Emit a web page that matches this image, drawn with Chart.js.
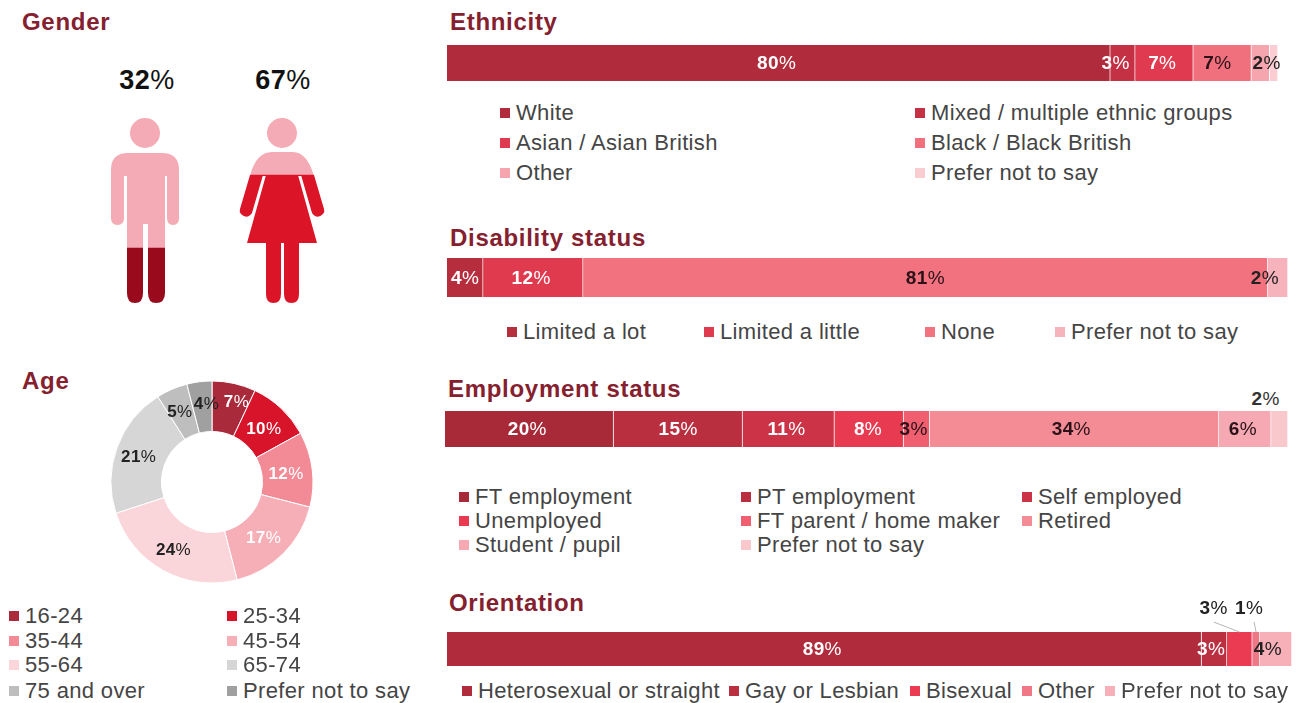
<!DOCTYPE html>
<html>
<head>
<meta charset="utf-8">
<title>Demographics</title>
<script src="https://cdn.jsdelivr.net/npm/chart.js@4"></script>
<style>
    html, body { margin: 0; background: #fff; overflow: hidden; }
    body { position: relative; width: 1298px; height: 703px; font-family: "Liberation Sans", Arial, sans-serif; }
    canvas { position: absolute; }
    .title { position: absolute; color: #85202f; font-size: 24px; font-weight: bold; letter-spacing: .7px; line-height: 28px; white-space: nowrap; transform: translateY(-50%); }
    .item { position: absolute; color: #454545; font-size: 22px; letter-spacing: .35px; line-height: 26px; white-space: nowrap; transform: translateY(-50%); }
    .swatch { position: absolute; width: 10px; height: 10px; transform: translateY(-50%); }
    .label { position: absolute; font-size: 18px; letter-spacing: .4px; white-space: nowrap; transform: translate(-50%, -50%); }
</style>
</head>
<body>
<script>
// ===== Data =====
const genderCats = ["Male", "Female"];
const genderValues = [32, 67];

const ageCats = ["16-24", "25-34", "35-44", "45-54", "55-64", "65-74", "75 and over", "Prefer not to say"];
const ageValues = [7, 10, 12, 17, 24, 21, 5, 4];
const ageColors = ["#a92b3b", "#d8142a", "#f28b96", "#f6aeb7", "#fad5da", "#d6d6d6", "#bebebe", "#a0a0a0"];
const ageText = ["#fff", "#fff", "#fff", "#fff", "#222", "#222", "#222", "#222"];

const ethnicityCats = ["White", "Mixed / multiple ethnic groups", "Asian / Asian British", "Black / Black British", "Other", "Prefer not to say"];
const ethnicityValues = [79.9, 3, 7, 7, 2.2, 1];
const ethnicityLabels = ["80", "3", "7", "7", "2", ""];
const ethnicityColors = ["#b02c3c", "#c43044", "#e03a50", "#f0707e", "#f6a5af", "#f9cdd2"];
const ethnicityText = ["#fff", "#fff", "#fff", "#2a1218", "#222", "#222"];

const disabilityCats = ["Limited a lot", "Limited a little", "None", "Prefer not to say"];
const disabilityValues = [4.3, 11.9, 81.5, 2.4];
const disabilityLabels = ["4", "12", "81", "2"];
const disabilityColors = ["#b62e3e", "#df3a4e", "#f2737f", "#f7b3bb"];
const disabilityText = ["#fff", "#fff", "#2a1218", "#222"];

const employmentCats = ["FT employment", "PT employment", "Self employed", "Unemployed", "FT parent / home maker", "Retired", "Student / pupil", "Prefer not to say"];
const employmentValues = [20, 15.3, 10.9, 8.2, 3.1, 34.3, 6.2, 2];
const employmentLabels = ["20", "15", "11", "8", "3", "34", "6", "2"];
const employmentColors = ["#a82a39", "#b92f40", "#cc3346", "#e83a50", "#ef5f70", "#f48c96", "#f6a9b2", "#f9c8cd"];
const employmentText = ["#fff", "#fff", "#fff", "#fff", "#2a1218", "#2a1218", "#2a1218", "#333"];

const orientationCats = ["Heterosexual or straight", "Gay or Lesbian", "Bisexual", "Other", "Prefer not to say"];
const orientationValues = [89.3, 3, 3, 0.9, 3.8];
const orientationLabels = ["89", "3", "3", "1", "4"];
const orientationColors = ["#b02c3c", "#bb3041", "#ea3b52", "#f07886", "#f7b0b8"];
const orientationText = ["#fff", "#fff", "#222", "#222", "#222"];

// ===== Helpers =====
function addEl(cls, css, html) {
    const el = document.createElement("div");
    el.className = cls;
    Object.assign(el.style, css);
    el.innerHTML = html;
    document.body.appendChild(el);
    return el;
}

function title(text, x, y) {
    addEl("title", { left: x + "px", top: y + "px" }, text);
}

function putLabel(x, y, num, color, size) {
    addEl("label", { left: x + "px", top: y + "px", color: color, fontSize: size + "px" }, `<b>${num}</b>%`);
}

// xs = swatch column positions, ys = row positions
function legend(cats, colors, xs, ys, gap) {
    cats.forEach((c, i) => {
        const x = xs[i % xs.length];
        const y = ys[Math.floor(i / xs.length)];
        addEl("swatch", { left: x + "px", top: y + "px", background: colors[i] }, "");
        addEl("item", { left: (x + gap) + "px", top: y + "px" }, c);
    });
}

function makeCanvas(x, y, w, h) {
    const c = document.createElement("canvas");
    c.width = w;
    c.height = h;
    c.style.left = x + "px";
    c.style.top = y + "px";
    document.body.appendChild(c);
    return c;
}

const baseOptions = {
    responsive: false,
    animation: false,
    layout: { padding: 0 },
    plugins: { legend: { display: false }, tooltip: { enabled: false } }
};

function stackedBar(box, cats, values, colors, labels, textColors, shifts, extra) {
    const canvas = makeCanvas(box.x, box.y, box.w, box.h);
    const chart = new Chart(canvas, {
        type: "bar",
        data: {
            labels: [""],
            datasets: cats.map((c, i) => ({
                label: c,
                data: [values[i]],
                backgroundColor: colors[i],
                borderColor: "rgba(255,255,255,.25)",
                borderWidth: { right: 1 },
                borderSkipped: false,
                barPercentage: 1,
                categoryPercentage: 1
            }))
        },
        options: {
            ...baseOptions,
            indexAxis: "y",
            layout: { padding: { top: box.pad || 0 } },
            scales: {
                x: { display: false, stacked: true, min: 0, max: values.reduce((a, b) => a + b, 0) },
                y: { display: false, stacked: true }
            }
        },
        plugins: extra ? [extra] : []
    });
    labels.forEach((l, i) => {
        if (!l) return;
        const p = chart.getDatasetMeta(i).data[0].getCenterPoint();
        const s = shifts[i];
        putLabel(box.x + p.x + s[0], box.y + p.y + s[1], l, textColors[i], 19);
    });
    return chart;
}

// ===== Gender =====
title("Gender", 22, 22);

const genderBox = { x: 100, y: 106, w: 230, h: 209 };
const manShape = new Path2D(
    "M160 133A15 15 0 1 1 130 133A15 15 0 1 1 160 133Z" +
    "M111 170Q111 153 128 153L162 153Q179 153 179 170L179 218Q179 225 173 225Q167 225 167 218L167 176L165 176L165 293Q165 303 156 303Q148 303 148 293L148 224L143 224L143 293Q143 303 135 303Q127 303 127 293L127 176L124 176L124 218Q124 225 117.5 225Q111 225 111 218Z");
const womanShape = new Path2D(
    "M297 133A15 15 0 1 1 267 133A15 15 0 1 1 297 133Z" +
    "M250 176Q256 152 272 152L293 152Q307 152 314 176Z" +
    "M250 175L263 175L252 213Q247 220 241 214Q239 212 240 209Z" +
    "M301 175L314 175L324 209Q325 212 323 214Q317 220 312 213Z" +
    "M266 175L298 175L317 243L299 243L299 294Q299 303 291.5 303Q284 303 284 294L284 243L281 243L281 294Q281 303 273.5 303Q266 303 266 294L266 243L247 243Z");

const clipToFigures = {
    id: "clipToFigures",
    beforeDatasetsDraw(chart) {
        const ctx = chart.ctx;
        ctx.save();
        ctx.translate(-genderBox.x, -genderBox.y);
        const both = new Path2D();
        both.addPath(manShape);
        both.addPath(womanShape);
        ctx.clip(both);
        ctx.translate(genderBox.x, genderBox.y);
    },
    afterDatasetsDraw(chart) {
        chart.ctx.restore();
    }
};

new Chart(makeCanvas(genderBox.x, genderBox.y, genderBox.w, genderBox.h), {
    type: "bar",
    data: {
        labels: genderCats,
        datasets: [
            { data: genderValues, backgroundColor: ["#990b1c", "#dc1428"], barPercentage: 1, categoryPercentage: 1 },
            { data: genderValues.map(v => 100 - v), backgroundColor: "#f5abb5", barPercentage: 1, categoryPercentage: 1 }
        ]
    },
    options: {
        ...baseOptions,
        scales: {
            x: { display: false, stacked: true },
            y: { display: false, stacked: true, min: 0, max: 100 }
        }
    },
    plugins: [clipToFigures]
});
putLabel(147, 80, genderValues[0], "#111", 27);
putLabel(283, 80, genderValues[1], "#111", 27);

// ===== Age =====
title("Age", 22, 381);

const ageBox = { x: 106, y: 376, w: 212, h: 212 };
const ageChart = new Chart(makeCanvas(ageBox.x, ageBox.y, ageBox.w, ageBox.h), {
    type: "doughnut",
    data: {
        labels: ageCats,
        datasets: [{ data: ageValues, backgroundColor: ageColors, borderColor: "#fff", borderWidth: 1 }]
    },
    options: { ...baseOptions, cutout: "50%", radius: 101 }
});
const ageShifts = [[8, -6], [0, 2], [-1, 1], [-2, 2], [-2, 2], [-2, 1], [-2, 0], [4, -3]];
ageChart.getDatasetMeta(0).data.forEach((arc, i) => {
    const p = arc.tooltipPosition();
    putLabel(ageBox.x + p.x + ageShifts[i][0], ageBox.y + p.y + ageShifts[i][1], ageValues[i], ageText[i], 17);
});
legend(ageCats, ageColors, [9, 227], [616, 641, 665, 691], 16);

// ===== Ethnicity =====
title("Ethnicity", 450, 22);
stackedBar({ x: 447, y: 45, w: 831, h: 36 }, ethnicityCats, ethnicityValues, ethnicityColors, ethnicityLabels, ethnicityText,
    [[-2, 0], [-7, 0], [-2, 0], [-5, 0], [6, 0], [0, 0]]);
legend(ethnicityCats, ethnicityColors, [500, 915], [113, 143, 173], 16);

// ===== Disability =====
title("Disability status", 450, 238);
stackedBar({ x: 447, y: 258, w: 841, h: 39 }, disabilityCats, disabilityValues, disabilityColors, disabilityLabels, disabilityText,
    [[0, 0], [-2, 0], [0, 0], [-13, 0]]);
disabilityCats.forEach((c, i) => {
    legend([c], [disabilityColors[i]], [[507, 704, 925, 1055][i]], [332], 16);
});

// ===== Employment =====
title("Employment status", 448, 389);
stackedBar({ x: 445, y: 411, w: 843, h: 36 }, employmentCats, employmentValues, employmentColors, employmentLabels, employmentText,
    [[-2, 0], [0, 0], [-2, 0], [-1, 0], [-3, 0], [-3, 0], [-2, 0], [-14, -30]]);
legend(employmentCats, employmentColors, [459, 741, 1022], [497, 521, 545], 16);

// ===== Orientation =====
title("Orientation", 449, 603);
const orientationShifts = [[-2, 0], [-3, 0], [-26, -41], [-7, -41], [-8, 0]];

// callout lines from the two labels above the bar down to their segments
const callouts = {
    id: "callouts",
    afterDatasetsDraw(chart) {
        const ctx = chart.ctx;
        ctx.save();
        ctx.strokeStyle = "#b5b5b5";
        ctx.lineWidth = 1;
        [2, 3].forEach(i => {
            const bar = chart.getDatasetMeta(i).data[0];
            const p = bar.getCenterPoint();
            ctx.beginPath();
            ctx.moveTo(p.x + orientationShifts[i][0] + (i === 2 ? 0 : 5), chart.chartArea.top - 10);
            ctx.lineTo(p.x, chart.chartArea.top);
            ctx.stroke();
        });
        ctx.restore();
    }
};
stackedBar({ x: 447, y: 612, w: 845, h: 54, pad: 20 }, orientationCats, orientationValues, orientationColors, orientationLabels, orientationText,
    orientationShifts, callouts);
orientationCats.forEach((c, i) => {
    legend([c], [orientationColors[i]], [[462, 729, 910, 1022, 1105][i]], [691], 16);
});
</script>
</body>
</html>
